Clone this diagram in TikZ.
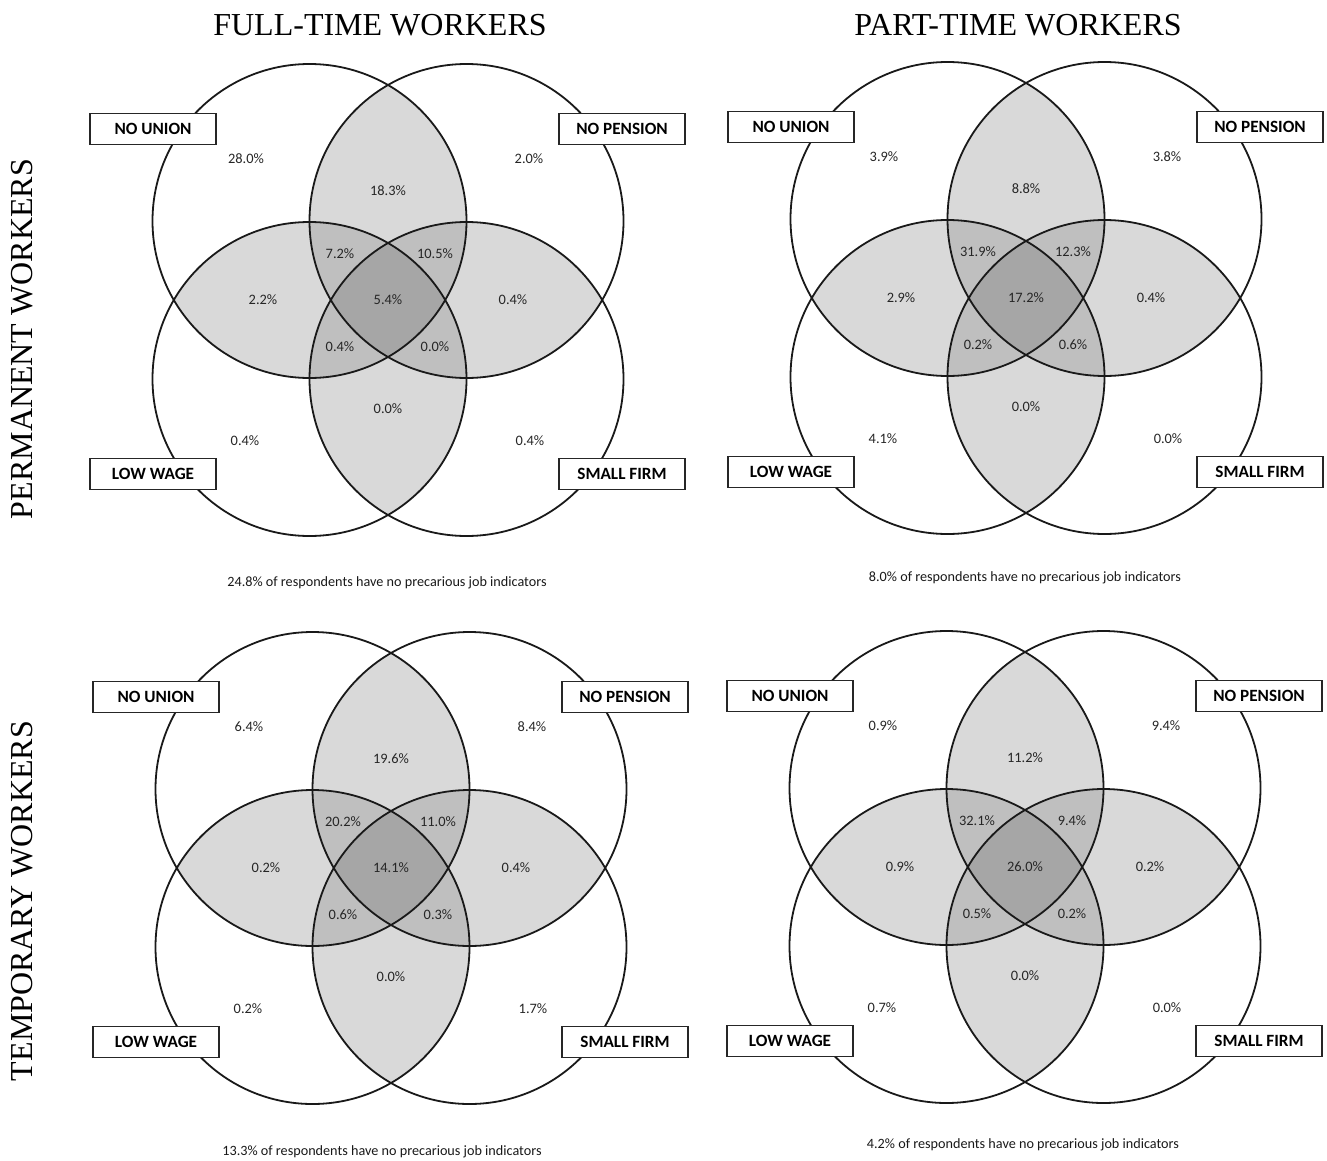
\documentclass[tikz,border=0pt]{standalone}
\usepackage{fontspec}
\setmainfont{Liberation Serif}
\newfontfamily\calibri{Carlito}
\usepackage{tikz}

\newcommand{\vennr}{78.5pt}
% four circles, shaded overlaps, labels (inside a shifted scope)
\newcommand{\vennbase}[1]{%
   \coordinate (tl) at (-78.5,-79);
   \coordinate (tr) at (78.5,-79);
   \coordinate (bl) at (-78.5,79);
   \coordinate (br) at (78.5,79);
   \foreach \a/\b in {tl/tr, tl/bl, tr/br, bl/br}{
      \begin{scope}\clip (\a) circle (\vennr); \fill[lensfill] (\b) circle (\vennr);\end{scope}}
   \foreach \a/\b/\c in {tl/tr/bl, tl/tr/br, tl/bl/br, tr/bl/br}{
      \begin{scope}\clip (\a) circle (\vennr); \clip (\b) circle (\vennr);
      \fill[tripfill] (\c) circle (\vennr);\end{scope}}
   \begin{scope}
      \clip (tl) circle (\vennr); \clip (tr) circle (\vennr); \clip (bl) circle (\vennr);
      \fill[quadfill] (br) circle (\vennr);
   \end{scope}
   \foreach \c in {tl,tr,bl,br} \draw[ring] (\c) circle (\vennr);
   \node[tag] (#1-nu) at (-235,-171) {NO UNION};
   \node[tag] (#1-np) at (234,-171) {NO PENSION};
   \node[tag] (#1-lw) at (-235,174) {LOW WAGE};
   \node[tag] (#1-sf) at (234,174) {SMALL FIRM};
   \coordinate (p1) at (-142,-141);
   \coordinate (p2) at (141,-141);
   \coordinate (p3) at (0,-109);
   \coordinate (p4) at (-48,-46);
   \coordinate (p5) at (47,-46);
   \coordinate (p6) at (-125,0);
   \coordinate (p7) at (0,0);
   \coordinate (p8) at (125,0);
   \coordinate (p9) at (-48,47);
   \coordinate (p10) at (47,47);
   \coordinate (p11) at (0,109);
   \coordinate (p12) at (-143,141);
   \coordinate (p13) at (142,141);
}

\begin{document}
\begin{tikzpicture}[x=0.5pt,y=-0.5pt]

   \tikzstyle{every node}+=[inner sep=0pt]
   \tikzstyle{ring}=[black!90, line width=0.9pt]
   \tikzstyle{lensfill}=[black!15]
   \tikzstyle{tripfill}=[black!25]
   \tikzstyle{quadfill}=[black!35]
   \tikzstyle{tag}=[draw=black!85, fill=white, line width=0.65pt, minimum width=63pt, minimum height=15.5pt, font=\calibri\bfseries\fontsize{8.6}{10}\selectfont]
   \tikzstyle{pct}=[font=\calibri\fontsize{7.2}{8}\selectfont, text=black!85]
   \tikzstyle{note}=[font=\calibri\fontsize{7.1}{8}\selectfont, text=black!90]
   \tikzstyle{head}=[font=\fontsize{16}{18}\selectfont]

   \useasboundingbox (0,0) rectangle (1327,1161);

   \node[head] (colft) at (380,25) {FULL-TIME WORKERS};
   \node[head] (colpt) at (1018,25) {PART-TIME WORKERS};
   \node[head, rotate=90] (rowperm) at (22,339) {PERMANENT WORKERS};
   \node[head, rotate=90] (rowtemp) at (22,901) {TEMPORARY WORKERS};

   % full-time, permanent
   \begin{scope}[shift={(388,300)}]
      \vennbase{ftp}
      \foreach \val [count=\k] in {28.0,2.0,18.3,7.2,10.5,2.2,5.4,0.4,0.4,0.0,0.0,0.4,0.4}
         \node[pct] (ftp-\k) at (p\k) {\val\%};
      \node[note] (ftp-none) at (-1,283) {24.8\% of respondents have no precarious job indicators};
   \end{scope}

   % part-time, permanent
   \begin{scope}[shift={(1026,298)}]
      \vennbase{ptp}
      \foreach \val [count=\k] in {3.9,3.8,8.8,31.9,12.3,2.9,17.2,0.4,0.2,0.6,0.0,4.1,0.0}
         \node[pct] (ptp-\k) at (p\k) {\val\%};
      \node[note] (ptp-none) at (-1,280) {8.0\% of respondents have no precarious job indicators};
   \end{scope}

   % full-time, temporary
   \begin{scope}[shift={(391,868)}]
      \vennbase{ftt}
      \foreach \val [count=\k] in {6.4,8.4,19.6,20.2,11.0,0.2,14.1,0.4,0.6,0.3,0.0,0.2,1.7}
         \node[pct] (ftt-\k) at (p\k) {\val\%};
      \node[note] (ftt-none) at (-9,284) {13.3\% of respondents have no precarious job indicators};
   \end{scope}

   % part-time, temporary
   \begin{scope}[shift={(1025,867)}]
      \vennbase{ptt}
      \foreach \val [count=\k] in {0.9,9.4,11.2,32.1,9.4,0.9,26.0,0.2,0.5,0.2,0.0,0.7,0.0}
         \node[pct] (ptt-\k) at (p\k) {\val\%};
      \node[note] (ptt-none) at (-2,278) {4.2\% of respondents have no precarious job indicators};
   \end{scope}

\end{tikzpicture}
\end{document}
